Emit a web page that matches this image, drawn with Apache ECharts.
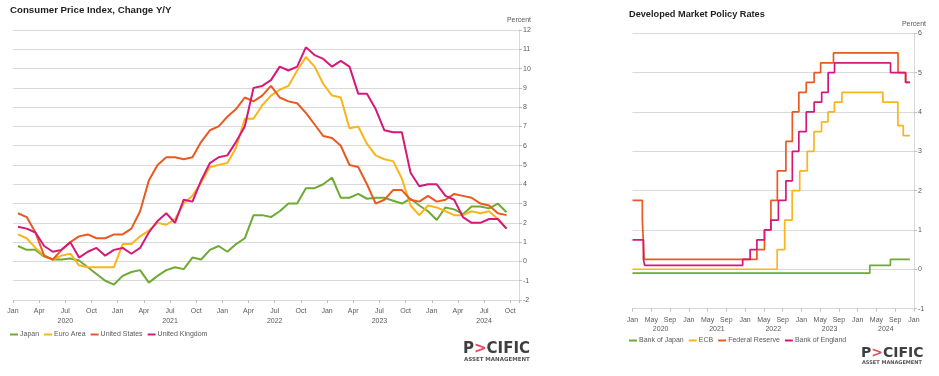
<!DOCTYPE html>
<html>
<head>
<meta charset="utf-8">
<script src="https://cdn.jsdelivr.net/npm/echarts@6/dist/echarts.min.js"></script>
<style>
  html, body { margin: 0; padding: 0; background: #fff; }
  #chart { width: 939px; height: 376px; }
</style>
</head>
<body>
<div id="chart"></div>
<script>
// CPI y/y, monthly Jan 2020 .. Sep 2024
const japan = [
  0.8, 0.6, 0.6, 0.25, 0.1, 0.1, 0.15, 0.05, -0.3, -0.65, -1.0, -1.2,
  -0.75, -0.55, -0.45, -1.1, -0.75, -0.45, -0.3, -0.4, 0.2, 0.1, 0.6, 0.8,
  0.5, 0.9, 1.2, 2.4, 2.4, 2.3, 2.6, 3.0, 3.0, 3.8, 3.8, 4.0,
  4.35, 3.3, 3.3, 3.5, 3.25, 3.3, 3.3, 3.15, 3.0, 3.25, 2.9, 2.6,
  2.15, 2.8, 2.7, 2.45, 2.85, 2.85, 2.75, 3.0, 2.55
];
const euroArea = [
  1.4, 1.2, 0.7, 0.3, 0.1, 0.3, 0.4, -0.2, -0.3, -0.3, -0.3, -0.3,
  0.9, 0.9, 1.3, 1.6, 2.0, 1.9, 2.2, 3.0, 3.4, 4.1, 4.9, 5.0,
  5.1, 5.9, 7.4, 7.4, 8.1, 8.6, 8.9, 9.1, 9.9, 10.6, 10.1, 9.2,
  8.6, 8.5, 6.9, 7.0, 6.1, 5.5, 5.3, 5.2, 4.3, 2.9, 2.4, 2.9,
  2.8, 2.6, 2.4, 2.4, 2.6, 2.5, 2.6, 2.2, 1.7
];
const unitedStates = [
  2.5, 2.3, 1.5, 0.3, 0.1, 0.6, 1.0, 1.3, 1.4, 1.2, 1.2, 1.4,
  1.4, 1.7, 2.6, 4.2, 5.0, 5.4, 5.4, 5.3, 5.4, 6.2, 6.8, 7.0,
  7.5, 7.9, 8.5, 8.3, 8.6, 9.1, 8.5, 8.3, 8.2, 7.7, 7.1, 6.5,
  6.4, 6.0, 5.0, 4.9, 4.0, 3.0, 3.2, 3.7, 3.7, 3.2, 3.1, 3.4,
  3.1, 3.2, 3.5, 3.4, 3.3, 3.0, 2.9, 2.5, 2.4
];
const unitedKingdom = [
  1.8, 1.7, 1.5, 0.8, 0.5, 0.6, 1.0, 0.2, 0.5, 0.7, 0.3, 0.6,
  0.7, 0.4, 0.7, 1.5, 2.1, 2.5, 2.0, 3.2, 3.1, 4.2, 5.1, 5.4,
  5.5, 6.2, 7.0, 9.0, 9.1, 9.4, 10.1, 9.9, 10.1, 11.1, 10.7, 10.5,
  10.1, 10.4, 10.1, 8.7, 8.7, 7.9, 6.8, 6.7, 6.7, 4.6, 3.9, 4.0,
  4.0, 3.4, 3.2, 2.3, 2.0, 2.0, 2.2, 2.2, 1.7
];

// policy rates: date of each change and the new level
const bojDates = ['2020-01-01', '2024-03-19', '2024-07-31'];
const bojRates = [-0.1, 0.1, 0.25];
const ecbDates = ['2020-01-01', '2022-07-27', '2022-09-14', '2022-11-02', '2022-12-21', '2023-02-08',
  '2023-03-22', '2023-05-10', '2023-06-21', '2023-08-02', '2023-09-20', '2024-06-12', '2024-09-18', '2024-10-23'];
const ecbRates = [0, 0.5, 1.25, 2.0, 2.5, 3.0, 3.5, 3.75, 4.0, 4.25, 4.5, 4.25, 3.65, 3.4];
const fedDates = ['2020-01-01', '2020-03-04', '2020-03-16', '2022-03-17', '2022-05-05', '2022-06-16',
  '2022-07-28', '2022-09-22', '2022-11-03', '2022-12-15', '2023-02-02', '2023-03-23', '2023-05-04',
  '2023-07-27', '2024-09-19', '2024-11-08'];
const fedRates = [1.75, 1.25, 0.25, 0.5, 1.0, 1.75, 2.5, 3.25, 4.0, 4.5, 4.75, 5.0, 5.25, 5.5, 5.0, 4.75];
const boeDates = ['2020-01-01', '2020-03-11', '2020-03-19', '2021-12-16', '2022-02-03', '2022-03-17',
  '2022-05-05', '2022-06-16', '2022-08-04', '2022-09-22', '2022-11-03', '2022-12-15', '2023-02-02',
  '2023-03-23', '2023-05-11', '2023-06-22', '2023-08-03', '2024-08-01', '2024-11-07'];
const boeRates = [0.75, 0.25, 0.1, 0.25, 0.5, 0.75, 1.0, 1.25, 1.75, 2.25, 3.0, 3.5, 4.0, 4.25, 4.5, 5.0, 5.25, 5.0, 4.75];
const rateEndDate = '2024-12-05';

// tick labels
const monthNames = ['Jan', 'Feb', 'Mar', 'Apr', 'May', 'Jun', 'Jul', 'Aug', 'Sep', 'Oct', 'Nov', 'Dec'];
const yearLabels = ['2020', '2021', '2022', '2023', '2024'];

const FONT = 'Liberation Sans';
const labelColor = '#595959';
const gridColor = '#d9d9d9';
const colors = ['#6eaa35', '#fcb41c', '#e85a22', '#d5197a'];

// months since Jan 2020 (fractional)
const toMonth = (s) => {
  const [y, m, d] = s.split('-').map(Number);
  const days = new Date(y, m, 0).getDate();
  return (y - 2020) * 12 + (m - 1) + (d - 1) / days;
};
const cpiPoints = (arr) => arr.map((v, i) => [i + 0.57, v]);
const stepPoints = (dates, rates) => {
  const pts = dates.map((d, i) => [toMonth(d), rates[i]]);
  pts.push([toMonth(rateEndDate), rates[rates.length - 1]]);
  return pts;
};

const myChart = echarts.init(document.getElementById('chart'));

const monthAxis = (gridIndex, max, interval, margin, fmt) => ({
  type: 'value', gridIndex, min: 0, max, interval, position: 'bottom',
  axisLine: { show: true, onZero: false, lineStyle: { color: gridColor, width: 1 } },
  axisTick: { show: true, length: 3, lineStyle: { color: '#bfbfbf' } },
  splitLine: { show: false },
  axisLabel: { color: labelColor, fontSize: 7, fontFamily: FONT, margin, formatter: fmt,
    showMinLabel: true, showMaxLabel: true, hideOverlap: false }
});
const yearAxis = (gridIndex, max, margin) => ({
  type: 'value', gridIndex, min: 0, max, interval: 6, position: 'bottom',
  axisLine: { show: false, onZero: false }, axisTick: { show: false }, splitLine: { show: false },
  axisLabel: { color: labelColor, fontSize: 7, fontFamily: FONT, margin,
    showMinLabel: true, showMaxLabel: true, hideOverlap: false,
    formatter: (v) => (v % 12 === 6 ? yearLabels[(v - 6) / 12] || '' : '') }
});
const valueAxis = (gridIndex, min, max) => ({
  type: 'value', gridIndex, min, max, interval: 1, position: 'right',
  name: 'Percent', nameLocation: 'end', nameGap: 6,
  nameTextStyle: { color: labelColor, fontSize: 7, fontFamily: FONT, align: 'center' },
  axisLine: { show: true, onZero: false, lineStyle: { color: gridColor } },
  axisTick: { show: true, length: 3, lineStyle: { color: '#bfbfbf' } },
  axisLabel: { color: labelColor, fontSize: 7, fontFamily: FONT, margin: 4 },
  splitLine: { show: true, lineStyle: { color: gridColor, width: 1 } }
});

const lineSeries = (name, data, color, xi, yi, step) => ({
  name, type: 'line', data, xAxisIndex: xi, yAxisIndex: yi,
  step: step ? 'end' : false, symbol: 'none', animation: false,
  lineStyle: { color, width: step ? 1.7 : 2 }, itemStyle: { color }
});

const logo = (x, y, size, subSize) => [
  {
    type: 'text', left: x, top: y,
    style: {
      text: '{p|P}{c|>}{p|CIFIC}',
      rich: {
        p: { fontSize: size, fontWeight: 'bold', fontFamily: 'DejaVu Sans', fill: '#3f3f3f' },
        c: { fontSize: size, fontWeight: 'bold', fontFamily: 'DejaVu Sans', fill: '#e8475d' }
      }
    }
  },
  {
    type: 'text', left: x + 1, top: y + size,
    style: { text: 'ASSET MANAGEMENT', fontSize: subSize, fontWeight: 'bold', fontFamily: 'DejaVu Sans', fill: '#555' }
  }
];

const legendStyle = { fontSize: 7, color: labelColor, fontFamily: FONT, padding: [0, 0, 0, -3] };

myChart.setOption({
  animation: false,
  title: [
    { text: 'Consumer Price Index, Change Y/Y', left: 10, top: 5, padding: 0,
      textStyle: { fontSize: 9.7, fontWeight: 'bold', color: '#1f1f1f', fontFamily: FONT } },
    { text: 'Developed Market Policy Rates', left: 629, top: 10, padding: 0,
      textStyle: { fontSize: 9.2, fontWeight: 'bold', color: '#1f1f1f', fontFamily: FONT } }
  ],
  legend: [
    { data: ['Japan', 'Euro Area', 'United States', 'United Kingdom'], left: 5, top: 326,
      icon: 'rect', itemWidth: 8, itemHeight: 2, itemGap: 5, textStyle: legendStyle },
    { data: ['Bank of Japan', 'ECB', 'Federal Reserve', 'Bank of England'], left: 624, top: 332,
      icon: 'rect', itemWidth: 8, itemHeight: 2, itemGap: 5, textStyle: legendStyle }
  ],
  grid: [
    { left: 13, top: 30, width: 506, height: 270, containLabel: false },
    { left: 632.5, top: 33.3, width: 281.5, height: 275.3, containLabel: false }
  ],
  xAxis: [
    monthAxis(0, 58, 3, 8, (v) => (v <= 57 && v % 3 === 0 ? monthNames[v % 12] : '')),
    yearAxis(0, 58, 18),
    monthAxis(1, 60, 4, 8, (v) => (v % 4 === 0 ? monthNames[v % 12] : '')),
    yearAxis(1, 60, 17)
  ],
  yAxis: [valueAxis(0, -2, 12), valueAxis(1, -1, 6)],
  series: [
    lineSeries('Japan', cpiPoints(japan), colors[0], 0, 0),
    lineSeries('Euro Area', cpiPoints(euroArea), colors[1], 0, 0),
    lineSeries('United States', cpiPoints(unitedStates), colors[2], 0, 0),
    lineSeries('United Kingdom', cpiPoints(unitedKingdom), colors[3], 0, 0),
    lineSeries('Bank of Japan', stepPoints(bojDates, bojRates), colors[0], 2, 1, true),
    lineSeries('ECB', stepPoints(ecbDates, ecbRates), colors[1], 2, 1, true),
    lineSeries('Federal Reserve', stepPoints(fedDates, fedRates), colors[2], 2, 1, true),
    lineSeries('Bank of England', stepPoints(boeDates, boeRates), colors[3], 2, 1, true)
  ],
  graphic: [...logo(463, 342, 15, 5.5), ...logo(861, 346, 14, 5)]
});
</script>
</body>
</html>
